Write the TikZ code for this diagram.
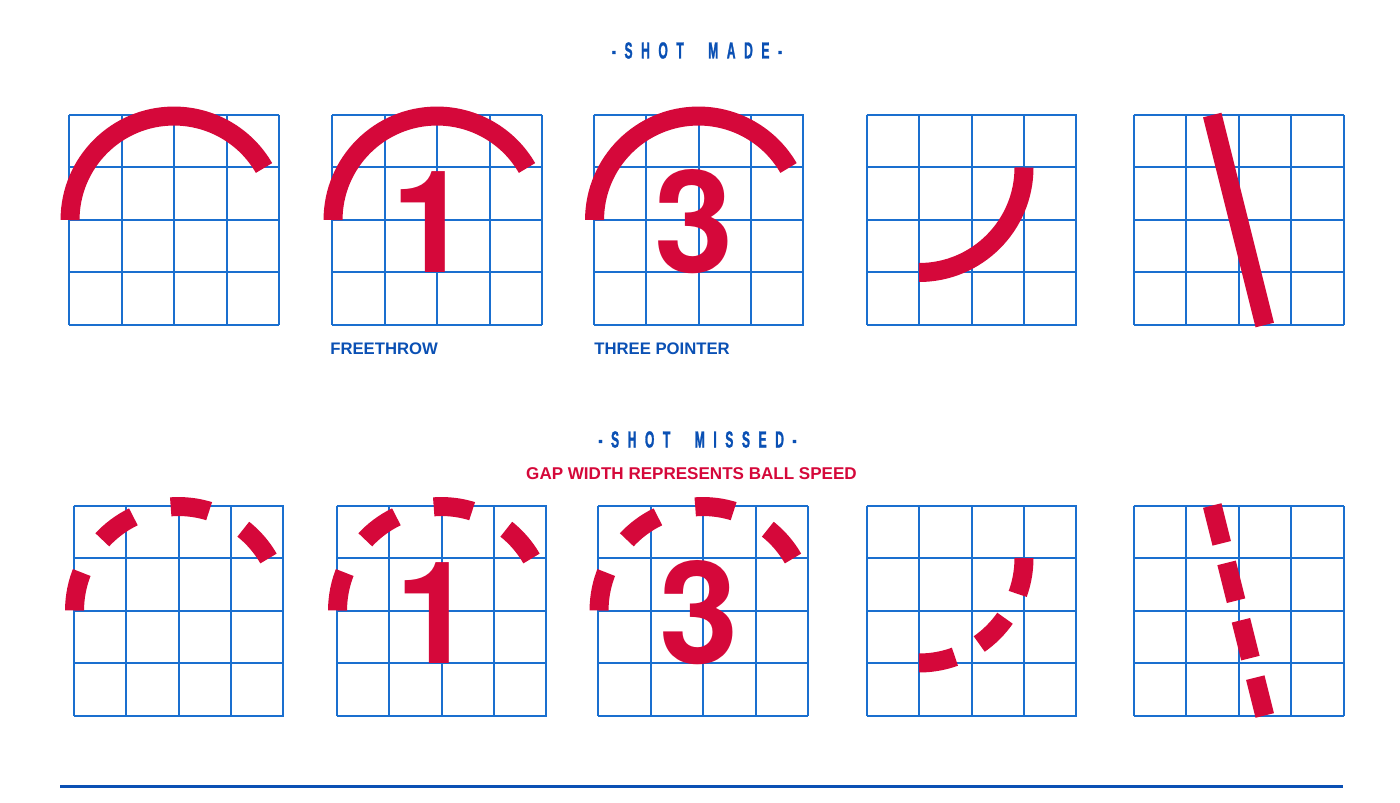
\documentclass[tikz,border=0pt]{standalone}
\usepackage{fontspec}
\setmainfont{Liberation Sans}
\newfontfamily\titlefont{Liberation Sans}[FakeStretch=0.52,FakeBold=1.2,LetterSpace=37]
\newfontfamily\digitfont{TeX Gyre Heros}
\definecolor{courtblue}{HTML}{1A6FCF}
\definecolor{titleblue}{HTML}{0A50B4}
\definecolor{shotred}{HTML}{D5083A}
\tikzset{
  court/.style={shift={#1},x=1.05cm,y=1.05cm},
  court grid/.style={draw=courtblue,line width=.04cm,step=1},
  shot made/.style={draw=shotred,line width=.38cm},
  shot missed/.style={shot made,dash pattern=#1},
  title text/.style={font=\titlefont\bfseries\fontsize{13.2}{15}\selectfont,text=titleblue,anchor=base,inner sep=0pt},
  label text/.style={font=\bfseries\fontsize{9.5}{11}\selectfont,text=titleblue,anchor=base west,inner sep=0pt},
  digit text/.style={font=\digitfont\bfseries\fontsize{81}{81}\selectfont,text=shotred,anchor=base,inner sep=0pt}
}
\begin{document}
\begin{tikzpicture}[x=1cm,y=1cm]
  \path[use as bounding box] (0,0) rectangle (28,16.04);
  \fill[white] (0,0) rectangle (28,16.04);

  % Shot made row.
  \node[title text] (made title) at (13.94,14.87) {-SHOT\hspace{.25cm} MADE-};

  \begin{scope}[court={(1.38,9.54)}]
    \draw[court grid] (0,0) grid (4,4);
    \draw[shot made] (0.02,2) arc[start angle=180,end angle=30,radius=1.98];
  \end{scope}

  \begin{scope}[court={(6.64,9.54)}]
    \draw[court grid] (0,0) grid (4,4);
    \node[digit text] (one made) at (1.88,1) {1};
    \draw[shot made] (0.02,2) arc[start angle=180,end angle=30,radius=1.98];
  \end{scope}
  \node[label text] (freethrow) at (6.60,8.94) {FREETHROW};

  \begin{scope}[court={(11.87,9.54)}]
    \draw[court grid] (0,0) grid (4,4);
    \node[digit text] (three made) at (1.92,1) {3};
    \draw[shot made] (0.02,2) arc[start angle=180,end angle=30,radius=1.98];
  \end{scope}
  \node[label text] (three pointer) at (11.88,8.94) {THREE POINTER};

  \begin{scope}[court={(17.33,9.54)}]
    \draw[court grid] (0,0) grid (4,4);
    \draw[shot made] (3,3) arc[start angle=0,end angle=-90,radius=2];
  \end{scope}

  \begin{scope}[court={(22.67,9.54)}]
    \draw[court grid] (0,0) grid (4,4);
    \draw[shot made] (1.5,4) -- (2.5,0);
  \end{scope}

  % Shot missed row.
  \node[title text] (missed title) at (13.95,7.09) {-SHOT\hspace{.25cm} MISSED-};
  \node[font=\bfseries\fontsize{9.7}{11}\selectfont,text=shotred,anchor=base,inner sep=0pt]
    (gap note) at (13.83,6.46) {GAP WIDTH REPRESENTS BALL SPEED};

  \begin{scope}[court={(1.47,1.73)}]
    \draw[court grid] (0,0) grid (4,4);
    \draw[shot missed={on .7775cm off .7775cm}] (0.02,2) arc[start angle=180,end angle=30,radius=1.98];
  \end{scope}

  \begin{scope}[court={(6.73,1.73)}]
    \draw[court grid] (0,0) grid (4,4);
    \node[digit text] (one missed) at (1.88,1) {1};
    \draw[shot missed={on .7775cm off .7775cm}] (0.02,2) arc[start angle=180,end angle=30,radius=1.98];
  \end{scope}

  \begin{scope}[court={(11.96,1.73)}]
    \draw[court grid] (0,0) grid (4,4);
    \node[digit text] (three missed) at (1.92,1) {3};
    \draw[shot missed={on .7775cm off .7775cm}] (0.02,2) arc[start angle=180,end angle=30,radius=1.98];
  \end{scope}

  \begin{scope}[court={(17.33,1.73)}]
    \draw[court grid] (0,0) grid (4,4);
    \draw[shot missed={on .733cm off .55cm}] (3,3) arc[start angle=0,end angle=-90,radius=2];
  \end{scope}

  \begin{scope}[court={(22.67,1.73)}]
    \draw[court grid] (0,0) grid (4,4);
    \draw[shot missed={on .78cm off .403cm}] (1.5,4) -- (2.5,0);
  \end{scope}

  \draw[titleblue,line width=.06cm] (1.2,0.32) -- (26.86,0.32);
\end{tikzpicture}
\end{document}
